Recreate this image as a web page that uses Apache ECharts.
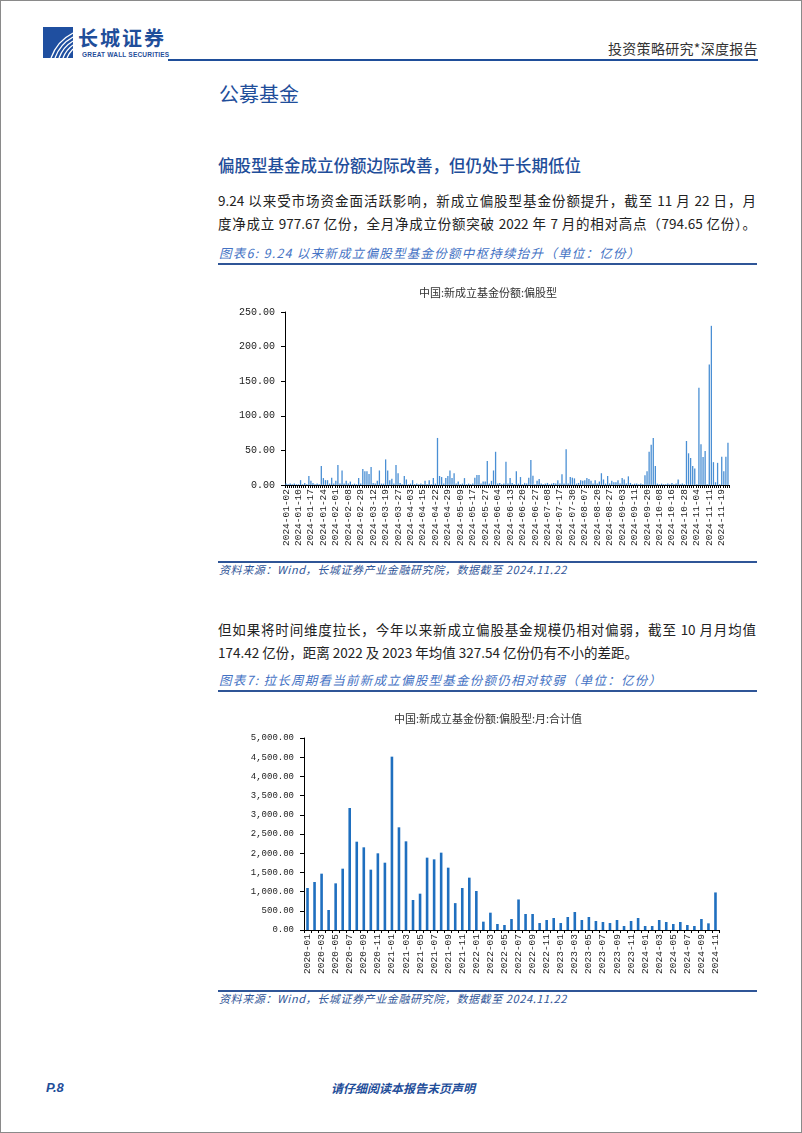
<!DOCTYPE html>
<html>
<head>
<meta charset="utf-8">
<script src="https://cdn.jsdelivr.net/npm/echarts@6/dist/echarts.min.js"></script>
<style>
body { margin: 0; background: #fff; }
#page { position: relative; width: 800px; height: 1131px; border: 1px solid #8a8a8a; background: #fff; overflow: hidden; font-family: "Noto Sans CJK SC", sans-serif; }
.t { position: absolute; white-space: nowrap; line-height: 1.2; }
.blue { color: #1f4e9a; }
.cap { font-style: italic; color: #4472c4; font-size: 12.5px; letter-spacing: 1.25px; }
.src { font-style: italic; color: #2f5597; font-size: 11px; letter-spacing: 0.6px; }
.rule { position: absolute; left: 217px; width: 539px; height: 1.5px; background: #2f5597; }
.para { position: absolute; left: 217px; width: 538px; font-size: 13.5px; color: #222; line-height: 1.2; text-align: justify; text-align-last: justify; white-space: nowrap; }
.para.last { text-align-last: left; }
#chart1 { position: absolute; left: 212px; top: 275px; width: 550px; height: 285px; }
#chart2 { position: absolute; left: 212px; top: 700px; width: 550px; height: 285px; }
</style>
</head>
<body>
<div id="page">
  <svg style="position:absolute;left:42px;top:26px" width="30" height="31" viewBox="0 0 30 31">
    <rect x="0" y="0" width="30" height="31" fill="#1f4fa0"/>
    <path d="M8 31 Q14 14 30 6" stroke="#fff" stroke-width="1.3" fill="none"/>
    <path d="M12 31 Q17 17 30 10" stroke="#fff" stroke-width="1.3" fill="none"/>
    <path d="M16 31 Q20 20 30 14" stroke="#fff" stroke-width="1.3" fill="none"/>
    <path d="M20 31 Q23 23 30 18" stroke="#fff" stroke-width="1.3" fill="none"/>
    <path d="M24 31 Q26 26 30 22" stroke="#fff" stroke-width="1.3" fill="none"/>
  </svg>
  <div class="t blue" style="left:77px;top:25px;font-size:20px;font-weight:bold;letter-spacing:2px;">长城证券</div>
  <div class="t blue" style="left:81px;top:50px;font-size:6.5px;font-family:'Liberation Sans';font-weight:bold;letter-spacing:0.2px;">GREAT WALL SECURITIES</div>
  <div class="t" style="left:607px;top:39px;font-size:14px;color:#333;letter-spacing:0.3px;">投资策略研究*深度报告</div>
  <div style="position:absolute;left:167px;top:58px;width:590px;height:2px;background:#1f4e9a;"></div>

  <div class="t blue" style="left:218px;top:81px;font-size:20px;">公募基金</div>
  <div class="t blue" style="left:217px;top:155px;font-size:16.5px;font-weight:500;">偏股型基金成立份额边际改善，但仍处于长期低位</div>

  <div class="para" style="top:191px;">9.24 以来受市场资金面活跃影响，新成立偏股型基金份额提升，截至 11 月 22 日，月</div>
  <div class="para" style="top:214px;">度净成立 977.67 亿份，全月净成立份额突破 2022 年 7 月的相对高点（794.65 亿份）。</div>

  <div class="t cap" style="left:218px;top:244px;">图表6: 9.24 以来新成立偏股型基金份额中枢持续抬升（单位：亿份）</div>
  <div class="rule" style="top:262px;"></div>
  <div id="chart1"></div>
  <div class="rule" style="top:560px;"></div>
  <div class="t src" style="left:218px;top:562px;">资料来源：Wind，长城证券产业金融研究院，数据截至 2024.11.22</div>

  <div class="para" style="top:620px;">但如果将时间维度拉长，今年以来新成立偏股基金规模仍相对偏弱，截至 10 月月均值</div>
  <div class="para last" style="top:643px;">174.42 亿份，距离 2022 及 2023 年均值 327.54 亿份仍有不小的差距。</div>

  <div class="t cap" style="left:218px;top:671px;">图表7: 拉长周期看当前新成立偏股型基金份额仍相对较弱（单位：亿份）</div>
  <div class="rule" style="top:689px;"></div>
  <div id="chart2"></div>
  <div class="rule" style="top:989px;"></div>
  <div class="t src" style="left:218px;top:991px;">资料来源：Wind，长城证券产业金融研究院，数据截至 2024.11.22</div>

  <div class="t blue" style="left:45px;top:1079px;font-size:13px;font-weight:bold;font-style:italic;font-family:'Liberation Sans';">P.8</div>
  <div class="t blue" style="left:330px;top:1080px;font-size:12px;font-weight:bold;font-style:italic;">请仔细阅读本报告末页声明</div>
</div>
<script>
// chart 1: daily, labelled every 6th trading day
const dailyLabels = [
  '2024-01-02', '2024-01-10', '2024-01-17', '2024-01-24', '2024-02-01', '2024-02-08',
  '2024-02-29', '2024-03-12', '2024-03-19', '2024-03-27', '2024-04-03', '2024-04-15',
  '2024-04-22', '2024-04-29', '2024-05-09', '2024-05-17', '2024-05-27', '2024-06-04',
  '2024-06-13', '2024-06-20', '2024-06-27', '2024-07-08', '2024-07-17', '2024-07-30',
  '2024-08-07', '2024-08-20', '2024-08-27', '2024-09-03', '2024-09-11', '2024-09-20',
  '2024-10-08', '2024-10-16', '2024-10-28', '2024-11-04', '2024-11-11', '2024-11-19'
];
const dailyValues = [
  2, 1, 2, 1, 2, 1, 1, 7, 1, 3,
  1, 13, 6, 3, 1, 2, 1, 27.5, 10, 7,
  7, 2, 10.6, 2, 6, 29, 2, 21, 2, 6,
  2, 5, 1, 2, 1, 10, 2, 23, 20, 20,
  16, 26, 3, 2, 6, 21, 2, 2, 37, 21,
  7, 9, 2, 29, 17, 3, 1, 13, 8, 1,
  2, 7, 1, 2, 1, 2, 1, 6, 1, 7,
  1, 10, 2, 68, 13, 11.5, 2, 10, 13, 21,
  10, 17, 2, 5, 1, 2, 10, 1, 2, 1,
  2, 10.6, 14.5, 14.5, 2, 5, 5, 34.7, 2, 6,
  21, 48, 2, 3, 1, 2, 33.7, 2, 10, 3,
  1, 20, 2, 11.5, 1, 3, 2, 10.6, 36, 13.5,
  1, 6, 8.7, 2, 1, 2, 3, 1, 2, 3,
  2, 7, 2, 15.4, 2, 51.5, 2, 11.5, 10.6, 9.6,
  2, 3, 7, 6, 7, 10, 8.7, 6, 2, 7,
  2, 5, 17, 8, 2, 13, 2, 6, 4, 4,
  7, 2, 10, 8, 2, 12.5, 3, 1, 2, 2,
  1, 2, 1, 14, 20, 48, 58, 68, 27.5, 2,
  1, 2, 1, 1, 2, 1, 3, 1, 2, 8,
  1, 2, 1, 63.6, 45.8, 39, 27.5, 24, 1, 140.7,
  59, 40.5, 49, 1, 174, 230, 33, 4, 32, 1,
  41, 20, 41, 61
];

// chart 2: monthly totals
const monthLabels = [
  '2020-01', '2020-02', '2020-03', '2020-04', '2020-05', '2020-06', '2020-07', '2020-08', '2020-09', '2020-10', '2020-11', '2020-12',
  '2021-01', '2021-02', '2021-03', '2021-04', '2021-05', '2021-06', '2021-07', '2021-08', '2021-09', '2021-10', '2021-11', '2021-12',
  '2022-01', '2022-02', '2022-03', '2022-04', '2022-05', '2022-06', '2022-07', '2022-08', '2022-09', '2022-10', '2022-11', '2022-12',
  '2023-01', '2023-02', '2023-03', '2023-04', '2023-05', '2023-06', '2023-07', '2023-08', '2023-09', '2023-10', '2023-11', '2023-12',
  '2024-01', '2024-02', '2024-03', '2024-04', '2024-05', '2024-06', '2024-07', '2024-08', '2024-09', '2024-10', '2024-11'
];
const monthValues = [
  1094, 1250, 1467, 521, 1215, 1597, 3177, 2300, 2153, 1571, 1997, 1753,
  4514, 2674, 2309, 781, 946, 1884, 1840, 2014, 1623, 700, 1094, 1363,
  1016, 217, 451, 156, 130, 286, 795, 417, 417, 182, 260, 312,
  182, 339, 469, 260, 339, 234, 208, 182, 260, 104, 234, 312,
  104, 104, 260, 208, 156, 208, 130, 104, 286, 174, 978
];

const labelFont = 'Liberation Mono';

// one category per bar; only the first of each group of 6 is shown
const dailyCats = dailyValues.map((v, i) => {
  const g = Math.floor(i / 6);
  return i % 6 === 0 ? dailyLabels[g] : dailyLabels[g] + '#' + (i % 6);
});

const chart1 = echarts.init(document.getElementById('chart1'));
chart1.setOption({
  animation: false,
  title: {
    text: '中国:新成立基金份额:偏股型',
    left: 'center',
    top: 6,
    textStyle: { fontSize: 11, fontWeight: 'normal', color: '#333', fontFamily: 'Noto Sans CJK SC' }
  },
  grid: { left: 72, top: 36, width: 444, height: 173 },
  xAxis: {
    type: 'category',
    data: dailyCats,
    axisLine: { lineStyle: { color: '#000', width: 1 } },
    axisTick: { show: true, interval: 0, length: 3, lineStyle: { color: '#000' } },
    axisLabel: { interval: 5, rotate: 90, margin: 4, fontSize: 9.5, color: '#222', fontFamily: labelFont }
  },
  yAxis: {
    type: 'value',
    min: 0,
    max: 250,
    interval: 50,
    axisLine: { show: true, lineStyle: { color: '#000' } },
    axisTick: { show: true, length: 4, lineStyle: { color: '#000' } },
    splitLine: { show: false },
    axisLabel: { formatter: v => v.toFixed(2), margin: 10, fontSize: 10, color: '#222', fontFamily: labelFont }
  },
  series: [{ type: 'bar', data: dailyValues, barWidth: 1.3, itemStyle: { color: '#4a8fd4' } }]
});

const chart2 = echarts.init(document.getElementById('chart2'));
chart2.setOption({
  animation: false,
  title: {
    text: '中国:新成立基金份额:偏股型:月:合计值',
    left: 'center',
    top: 7,
    textStyle: { fontSize: 11, fontWeight: 'normal', color: '#333', fontFamily: 'Noto Sans CJK SC' }
  },
  grid: { left: 91, top: 37, width: 415, height: 192 },
  xAxis: {
    type: 'category',
    data: monthLabels,
    axisLine: { lineStyle: { color: '#000', width: 1 } },
    axisTick: { show: true, interval: 0, length: 3, lineStyle: { color: '#000' } },
    axisLabel: { interval: 1, rotate: 90, margin: 4, fontSize: 9.5, color: '#222', fontFamily: labelFont }
  },
  yAxis: {
    type: 'value',
    min: 0,
    max: 5000,
    interval: 500,
    axisLine: { show: true, lineStyle: { color: '#000' } },
    axisTick: { show: true, length: 4, lineStyle: { color: '#000' } },
    splitLine: { show: false },
    axisLabel: {
      formatter: v => v.toLocaleString('en-US', { minimumFractionDigits: 2, maximumFractionDigits: 2 }),
      margin: 10, fontSize: 9, color: '#222', fontFamily: labelFont
    }
  },
  series: [{ type: 'bar', data: monthValues, barWidth: 2.6, itemStyle: { color: '#1f6fbf' } }]
});
</script>
</body>
</html>
